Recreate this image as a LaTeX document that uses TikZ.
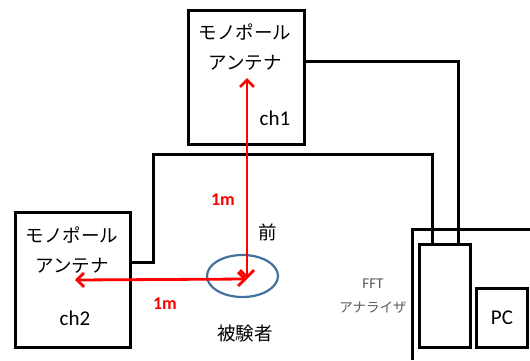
\documentclass[tikz,border=0pt]{standalone}
\usepackage{fontspec}
\setmainfont{Carlito}
\newfontfamily\jp{Noto Sans CJK JP}
\usetikzlibrary{arrows.meta,shapes.geometric}
\definecolor{ellcol}{HTML}{41719C}
\definecolor{lblgray}{HTML}{595959}
\begin{document}
\begin{tikzpicture}[x=1pt,y=-1pt,
  box/.style={draw=black,line width=3pt,inner sep=0pt,rectangle},
  cable/.style={draw=black,line width=3pt},
  meas/.style={draw=red,line width=2.8pt,{Straight Barb[length=7pt,width=14pt]}-{Straight Barb[length=7pt,width=14pt]}},
  jplbl/.style={font=\jp\fontsize{18.5}{30}\selectfont,align=center,inner sep=0pt},
  latlbl/.style={font=\fontsize{21}{22}\selectfont,inner sep=0pt},
  dist/.style={font=\bfseries\fontsize{18}{20}\selectfont,text=red,inner sep=0pt}
  ]
\useasboundingbox (0,0) rectangle (530,360);
% boxes
\node[box,minimum width=116pt,minimum height=134pt] (ch1) at (246,77) {};
\node[box,minimum width=115pt,minimum height=135pt] (ch2) at (72.5,279.5) {};
\node[box,minimum width=51pt,minimum height=103pt] (fft) at (444.5,295.5) {};
\node[box,minimum width=51pt,minimum height=59pt] (pc) at (501.5,317.5) {};
% room edge
\coordinate (r1) at (412,360);
\coordinate (r2) at (412,229);
\coordinate (r3) at (530,229);
\draw[cable] (r1) -- (r2) -- (r3);
% cables
\coordinate (c1a) at (304,61);
\coordinate (c1b) at (458,61);
\coordinate (c1c) at (458,244);
\draw[cable] (c1a) -- (c1b) -- (c1c);
\coordinate (c2a) at (130,262);
\coordinate (c2b) at (153,262);
\coordinate (c2c) at (153,154);
\coordinate (c2d) at (432,154);
\coordinate (c2e) at (432,244);
\draw[cable] (c2a) -- (c2b) -- (c2c) -- (c2d) -- (c2e);
% subject
\node[draw=ellcol,line width=2.2pt,ellipse,minimum width=71pt,minimum height=42pt,inner sep=0pt] (subj) at (242.5,276) {};
\coordinate (tip) at (247,279);
\coordinate (top) at (247,78);
\coordinate (left) at (75,280);
\draw[meas] (top) -- (tip);
\draw[meas] (left) -- (tip);
% labels
\node[jplbl] (t1) at (245,47.5) {モノポール\\アンテナ};
\node[latlbl] (ch1l) at (275,118) {ch1};
\node[jplbl] (t2) at (72,250.5) {モノポール\\アンテナ};
\node[latlbl] (ch2l) at (75,318) {ch2};
\node[dist] (d1) at (223,200) {1m};
\node[dist] (d2) at (165,304) {1m};
\node[jplbl] (front) at (268,232) {前};
\node[jplbl] (subjl) at (245,333) {被験者};
\node[font=\fontsize{15}{16}\selectfont,text=lblgray,inner sep=0pt] (fftl) at (373,284) {FFT};
\node[font=\jp\fontsize{13.5}{16}\selectfont,text=lblgray,inner sep=0pt] (anl) at (373,308) {アナライザ};
\node[latlbl] (pcl) at (502,318) {PC};
\end{tikzpicture}
\end{document}
